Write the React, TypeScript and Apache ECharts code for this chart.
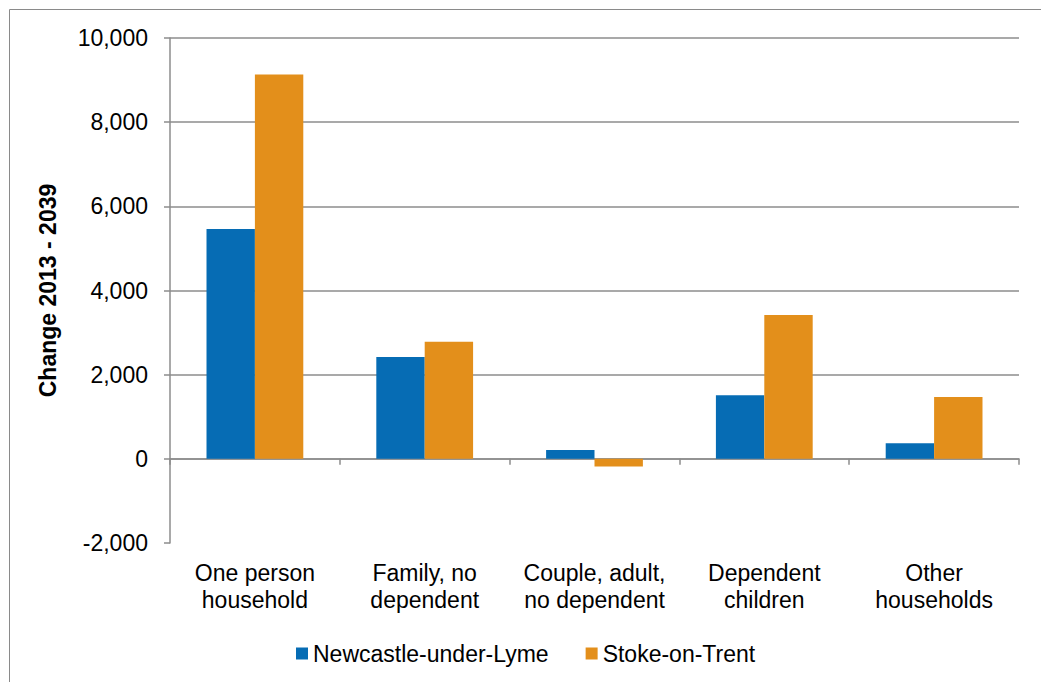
import React, { useEffect, useRef } from "react";
import * as echarts from "echarts";

const categories = [
  "One person\nhousehold",
  "Family, no\ndependent",
  "Couple, adult,\nno dependent",
  "Dependent\nchildren",
  "Other\nhouseholds",
];
const newcastle = [5460, 2420, 210, 1510, 370];
const stoke = [9130, 2780, -180, 3420, 1470];
const seriesNames = ["Newcastle-under-Lyme", "Stoke-on-Trent"];
const yTitle = "Change 2013 - 2039";

const FONT = "'Liberation Sans', Arial, sans-serif";
const GRID = "#8c8c8c";
const FS = 23;

export default function App() {
  const ref = useRef<HTMLDivElement>(null);
  useEffect(() => {
    if (!ref.current) return;
    const chart = echarts.init(ref.current, undefined, { renderer: "svg" });
    chart.setOption({
      animation: false,
      backgroundColor: "#ffffff",
      textStyle: { fontFamily: FONT },
      graphic: [
        {
          type: "rect",
          shape: { x: 9.5, y: 9.5, width: 1040, height: 700 },
          style: { fill: "none", stroke: "#8a8a8a", lineWidth: 1 },
          silent: true,
        },
      ],
      grid: { left: 170, right: 22, top: 38, bottom: 139, containLabel: false },
      legend: {
        data: seriesNames,
        left: 291,
        top: 637,
        itemWidth: 12,
        itemHeight: 12,
        itemGap: 37,
        icon: "rect",
        textStyle: { fontFamily: FONT, fontSize: FS, color: "#000" },
      },
      xAxis: [
        {
          type: "category",
          data: categories,
          axisLine: { onZero: true, lineStyle: { color: GRID, width: 1.5 } },
          axisTick: { show: true, length: 6, lineStyle: { color: GRID, width: 1.5 } },
          axisLabel: { show: false },
          splitLine: { show: false },
        },
        {
          type: "category",
          data: categories,
          position: "bottom",
          axisLine: { show: false, onZero: false },
          axisTick: { show: false },
          axisLabel: {
            show: true,
            interval: 0,
            hideOverlap: false,
            margin: 16,
            fontFamily: FONT,
            fontSize: FS,
            lineHeight: 27,
            color: "#000",
          },
        },
      ],
      yAxis: {
        type: "value",
        min: -2000,
        max: 10000,
        interval: 2000,
        name: yTitle,
        nameLocation: "middle",
        nameRotate: 90,
        nameGap: 111,
        nameTextStyle: { fontFamily: FONT, fontSize: FS, fontWeight: "bold", color: "#000" },
        axisLine: { show: true, lineStyle: { color: GRID, width: 1.5 } },
        axisTick: { show: true, length: 6, lineStyle: { color: GRID, width: 1.5 } },
        axisLabel: {
          margin: 22,
          fontFamily: FONT,
          fontSize: FS,
          color: "#000",
          formatter: (v: number) => v.toLocaleString("en-US"),
        },
        splitLine: { show: true, showMinLine: false, lineStyle: { color: GRID, width: 1.5 } },
      },
      series: [
        {
          name: seriesNames[0],
          type: "bar",
          data: newcastle,
          itemStyle: { color: "#066CB4" },
          barGap: "0%",
          barCategoryGap: "43%",
        },
        {
          name: seriesNames[1],
          type: "bar",
          data: stoke,
          itemStyle: { color: "#E38F1B" },
          barGap: "0%",
          barCategoryGap: "43%",
        },
      ],
    });
    return () => chart.dispose();
  }, []);
  return (
    <div
      ref={ref}
      style={{ position: "fixed", left: 0, top: 0, width: 1041, height: 682, background: "#fff" }}
    />
  );
}
